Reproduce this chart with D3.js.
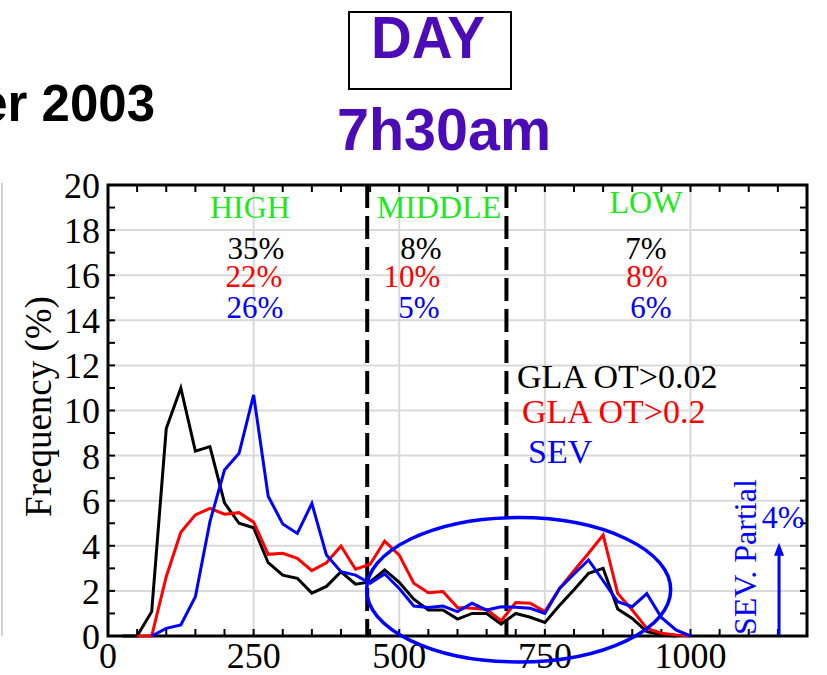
<!DOCTYPE html>
<html>
<head>
<meta charset="utf-8">
<script src="https://cdn.jsdelivr.net/npm/d3@7"></script>
<style>
  body { margin: 0; background: #fff; }
  svg { display: block; }
</style>
</head>
<body>
<div id="chart"></div>
<script>
// pressure bins (hPa) and frequencies (%)
const bins = [25, 50, 75, 100, 125, 150, 175, 200, 225, 250, 275, 300, 325, 350, 375, 400,
  425, 450, 475, 500, 525, 550, 575, 600, 625, 650, 675, 700, 725, 750, 775, 800,
  825, 850, 875, 900, 925, 950, 975, 1000];
const glaLow = [0, 0, 1.08, 9.2, 11.0, 8.2, 8.4, 5.9, 5.0, 4.8, 3.25, 2.7, 2.56, 1.9, 2.2, 2.85,
  2.3, 2.4, 2.93, 2.38, 1.63, 1.15, 1.15, 0.75, 1.0, 1.0, 0.53, 1.0, 0.83, 0.6, 1.35, 2.05,
  2.78, 3.0, 1.2, 0.78, 0.19, 0.05, 0, null];
const glaHigh = [null, 0, 0, 2.63, 4.6, 5.37, 5.66, 5.4, 5.47, 5.05, 3.62, 3.67, 3.44, 2.9, 3.25, 3.99,
  2.96, 3.18, 4.21, 3.59, 2.34, 1.92, 1.97, 1.26, 1.23, 1.18, 0.68, 1.48, 1.45, 1.08, 2.1, 2.9,
  3.67, 4.48, 1.89, 1.15, 0.34, 0.12, 0.05, 0];
const sev = [null, null, 0, 0.34, 0.49, 1.74, 5.07, 7.36, 8.1, 10.69, 6.2, 4.97, 4.55, 5.88, 3.59, 2.85,
  2.7, 2.34, 2.75, 2.11, 1.33, 1.26, 1.33, 1.08, 1.45, 1.15, 1.3, 1.28, 1.23, 1.0, 2.1, 2.75,
  3.37, 2.45, 1.52, 1.3, 1.88, 0.82, 0.27, 0];

const seriesNames = ["GLA OT>0.02", "GLA OT>0.2", "SEV"];
const seriesColors = ["#000000", "#ff0000", "#0000ff"];

const boundaries = [445, 684];            // HIGH / MIDDLE / LOW limits
const levelNames = ["HIGH", "MIDDLE", "LOW"];
const levelPct = [[35, 22, 26], [8, 10, 5], [7, 8, 6]];   // per level: black, red, blue

const xTicks = [0, 250, 500, 750, 1000];
const yTicks = [0, 2, 4, 6, 8, 10, 12, 14, 16, 18, 20];
const sevPartial = 4;
const sevPartialAt = 1152;
const ellipse = {cx: 705, cy: 2.05, rx: 261, ry: 3.2};

const W = 827, H = 675;
const margin = {top: 185, right: 20, bottom: 39, left: 108};
const serif = "'Liberation Serif','Times New Roman',serif";
const sans = "'Liberation Sans',Arial,sans-serif";
const purple = "#4b0cb8";
const green = "#1ee81e";

const svg = d3.select("#chart").append("svg")
  .attr("width", W).attr("height", H);

const x = d3.scaleLinear().domain([0, 1200]).range([margin.left, W - margin.right]);
const y = d3.scaleLinear().domain([0, 20]).range([H - margin.bottom, margin.top]);

// leftover edge of neighbouring panel
svg.append("line")
  .attr("x1", 2).attr("x2", 2).attr("y1", y(20) - 2).attr("y2", y(0))
  .attr("stroke", "#cfcfcf").attr("stroke-width", 2);

// titles
svg.append("text")
  .attr("x", 155).attr("y", 121)
  .attr("text-anchor", "end")
  .attr("font-family", sans).attr("font-weight", "bold").attr("font-size", 51)
  .text("er 2003");

svg.append("rect")
  .attr("x", 349).attr("y", 12).attr("width", 162).attr("height", 77)
  .attr("fill", "none").attr("stroke", "#000").attr("stroke-width", 2);
svg.append("text")
  .attr("x", 371).attr("y", 58)
  .attr("textLength", 114).attr("lengthAdjust", "spacingAndGlyphs")
  .attr("font-family", sans).attr("font-weight", "bold").attr("font-size", 60)
  .attr("fill", purple)
  .text("DAY");
svg.append("text")
  .attr("x", 337).attr("y", 150)
  .attr("textLength", 214).attr("lengthAdjust", "spacingAndGlyphs")
  .attr("font-family", sans).attr("font-weight", "bold").attr("font-size", 60)
  .attr("fill", purple)
  .text("7h30am");

// grid
const g = svg.append("g");
g.selectAll(".hgrid")
  .data(yTicks.filter(d => d > 0 && d < 20))
  .enter().append("line")
  .attr("x1", x(0)).attr("x2", x(1200))
  .attr("y1", d => y(d)).attr("y2", d => y(d))
  .attr("stroke", "#d9d9d9").attr("stroke-width", 2);
g.selectAll(".vgrid")
  .data(xTicks.filter(d => d > 0))
  .enter().append("line")
  .attr("x1", d => x(d)).attr("x2", d => x(d))
  .attr("y1", y(0)).attr("y2", y(20))
  .attr("stroke", "#d9d9d9").attr("stroke-width", 2);

// inward ticks
const minorX = d3.range(50, 1200, 50);
const minorY = d3.range(1, 20, 1);
const tl = 7;
g.selectAll(".tb").data(minorX).enter().append("line")
  .attr("x1", d => x(d)).attr("x2", d => x(d))
  .attr("y1", y(0)).attr("y2", y(0) - tl)
  .attr("stroke", "#000").attr("stroke-width", 2);
g.selectAll(".tt").data(minorX).enter().append("line")
  .attr("x1", d => x(d)).attr("x2", d => x(d))
  .attr("y1", y(20)).attr("y2", y(20) + tl)
  .attr("stroke", "#000").attr("stroke-width", 2);
g.selectAll(".tl").data(minorY).enter().append("line")
  .attr("x1", x(0)).attr("x2", x(0) + tl)
  .attr("y1", d => y(d)).attr("y2", d => y(d))
  .attr("stroke", "#000").attr("stroke-width", 2);
g.selectAll(".tr").data(minorY).enter().append("line")
  .attr("x1", x(1200)).attr("x2", x(1200) - tl)
  .attr("y1", d => y(d)).attr("y2", d => y(d))
  .attr("stroke", "#000").attr("stroke-width", 2);

// frame
g.append("rect")
  .attr("x", x(0)).attr("y", y(20))
  .attr("width", x(1200) - x(0)).attr("height", y(0) - y(20))
  .attr("fill", "none").attr("stroke", "#000").attr("stroke-width", 3);

// tick labels
g.selectAll(".ylab").data(yTicks).enter().append("text")
  .attr("x", x(0) - 8).attr("y", d => y(d)).attr("dy", "0.36em")
  .attr("text-anchor", "end")
  .attr("font-family", serif).attr("font-size", 36)
  .text(d => d);
g.selectAll(".xlab").data(xTicks).enter().append("text")
  .attr("x", d => x(d)).attr("y", y(0) + 32)
  .attr("text-anchor", "middle")
  .attr("font-family", serif).attr("font-size", 36)
  .text(d => d);

svg.append("text")
  .attr("transform", `translate(51,${(y(0) + y(20)) / 2 - 4}) rotate(-90)`)
  .attr("text-anchor", "middle")
  .attr("font-family", serif).attr("font-size", 37)
  .text("Frequency (%)");

// level boundaries
g.selectAll(".bound").data(boundaries).enter().append("line")
  .attr("x1", d => x(d)).attr("x2", d => x(d))
  .attr("y1", y(20)).attr("y2", y(0))
  .attr("stroke", "#000").attr("stroke-width", 4)
  .attr("stroke-dasharray", "23,8");

// series
const line = d3.line()
  .defined(d => d[1] != null)
  .x(d => x(d[0])).y(d => y(d[1]));
[glaLow, glaHigh, sev].forEach((vals, i) => {
  g.append("path")
    .datum(bins.map((b, j) => [b, vals[j]]))
    .attr("d", line)
    .attr("fill", "none")
    .attr("stroke", seriesColors[i])
    .attr("stroke-width", 3)
    .attr("stroke-linejoin", "miter");
});

// level labels and percentages
const levelX = [250, 439, 646];
const levelBase = [218, 218, 213];
const pctX = [[256, 254, 255], [421, 412, 419], [646, 647, 651]];
const pctBase = [259, 287, 318];
levelNames.forEach((name, i) => {
  svg.append("text")
    .attr("x", levelX[i]).attr("y", levelBase[i])
    .attr("text-anchor", "middle")
    .attr("font-family", serif).attr("font-size", 32)
    .attr("fill", green)
    .text(name);
  levelPct[i].forEach((p, k) => {
    svg.append("text")
      .attr("x", pctX[i][k]).attr("y", pctBase[k])
      .attr("text-anchor", "middle")
      .attr("font-family", serif).attr("font-size", 31)
      .attr("fill", seriesColors[k])
      .text(p + "%");
  });
});

// legend
const legX = [517, 522, 528];
const legY = [388, 423, 463];
seriesNames.forEach((n, i) => {
  svg.append("text")
    .attr("x", legX[i]).attr("y", legY[i])
    .attr("font-family", serif).attr("font-size", 34)
    .attr("fill", seriesColors[i])
    .text(n);
});

// ellipse around low-level region
svg.append("ellipse")
  .attr("cx", x(ellipse.cx)).attr("cy", y(ellipse.cy))
  .attr("rx", x(ellipse.rx) - x(0)).attr("ry", y(0) - y(ellipse.ry))
  .attr("fill", "none").attr("stroke", "#0000ff").attr("stroke-width", 3.5);

// SEV partial arrow
const ax = x(sevPartialAt);
svg.append("line")
  .attr("x1", ax).attr("x2", ax)
  .attr("y1", y(0) - 1).attr("y2", y(sevPartial) + 8)
  .attr("stroke", "#0000ff").attr("stroke-width", 3);
svg.append("path")
  .attr("d", `M${ax - 5},${y(sevPartial) + 10} L${ax},${y(sevPartial) - 3} L${ax + 5},${y(sevPartial) + 10} Z`)
  .attr("fill", "#0000ff");
svg.append("text")
  .attr("x", ax + 4).attr("y", y(sevPartial) - 18)
  .attr("text-anchor", "middle")
  .attr("font-family", serif).attr("font-size", 32)
  .attr("fill", "#0000ff")
  .text(sevPartial + "%");
svg.append("text")
  .attr("transform", `translate(${ax - 23},${y(0) - 1}) rotate(-90)`)
  .attr("font-family", serif).attr("font-size", 32)
  .attr("fill", "#0000ff")
  .text("SEV. Partial");
</script>
</body>
</html>
